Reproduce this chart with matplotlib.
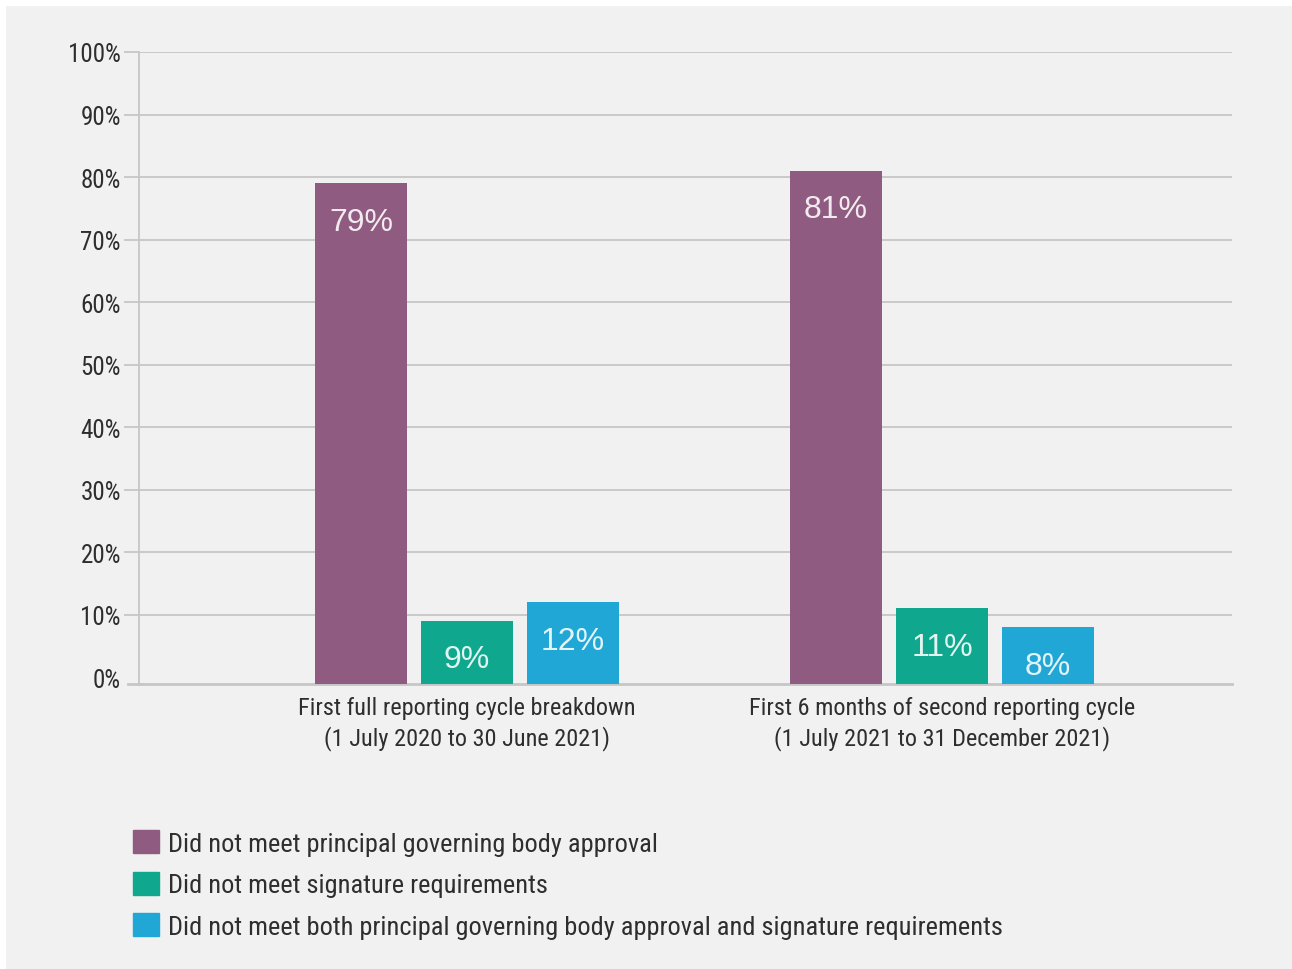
import matplotlib

matplotlib.use('Agg')
import matplotlib.pyplot as plt
import matplotlib.patches as mpatches
import numpy as np

# data
categories = ['First full reporting cycle breakdown\n(1 July 2020 to 30 June 2021)',
              'First 6 months of second reporting cycle\n(1 July 2021 to 31 December 2021)']
series_names = ['Did not meet principal governing body approval',
                'Did not meet signature requirements',
                'Did not meet both principal governing body approval and signature requirements']
approval = [79, 81]
signature = [9, 11]
both = [12, 8]
ytick_vals = [0, 10, 20, 30, 40, 50, 60, 70, 80, 90, 100]

colors = ['#8f5b80', '#0fa88e', '#21a7d6']
TEXT = '#2e2e2e'
GRID = '#c6c6c6'
BG = '#f0f1f0'
NARROW = ['Roboto Condensed', 'Liberation Sans Narrow', 'Roboto', 'DejaVu Sans']

fig = plt.figure(figsize=(12.92, 9.70), dpi=100)
fig.patch.set_facecolor('white')
# grey panel behind everything
fig.patches.append(mpatches.Rectangle((6 / 1292, 0), 1 - 6 / 1292, 1 - 7 / 970,
                                      transform=fig.transFigure, facecolor=BG,
                                      edgecolor='none', zorder=-10))

ax = fig.add_axes([139 / 1292, 1 - 685 / 970, (1232 - 139) / 1292, (685 - 53) / 970])
ax.set_facecolor(BG)

ybase = -1.1
x = np.arange(len(categories))
width = 0.192
step = 0.223
data_set = [approval, signature, both]
for i, vals in enumerate(data_set):
    h = np.array(vals) - ybase
    bars = ax.bar(x + (i - 1) * step, h, width, bottom=ybase, color=colors[i],
                  label=series_names[i], zorder=3)
    for b, v in zip(bars, vals):
        ax.annotate('%d%%' % v, (b.get_x() + b.get_width() / 2, b.get_y() + b.get_height()),
                    xytext=(0, -17), textcoords='offset points', ha='center', va='top',
                    fontsize=23, family=['Liberation Sans', 'DejaVu Sans'],
                    color='white', alpha=0.88, zorder=4)

ax.set_xlim(-0.6905, 1.6105)
ax.set_ylim(ybase, 100)
ax.set_yticks(ytick_vals)
ax.set_yticklabels(['%d%%' % v for v in ytick_vals], fontsize=18, family=NARROW, color=TEXT)
for v in ytick_vals[1:]:
    ax.axhline(v, color=GRID, linewidth=1.3, zorder=1)
ax.tick_params(axis='y', length=11, width=1.3, color=GRID, pad=2)
ax.yaxis.get_major_ticks()[0].tick1line.set_visible(False)

ax.set_xticks(x)
ax.set_xticklabels(categories, fontsize=17.5, family=NARROW, color=TEXT, linespacing=1.3)
ax.tick_params(axis='x', length=0, pad=9)

for s in ['top', 'right']:
    ax.spines[s].set_visible(False)
ax.spines['left'].set_color(GRID)
ax.spines['left'].set_linewidth(1.3)
ax.spines['bottom'].set_color(GRID)
ax.spines['bottom'].set_linewidth(2)
# base line runs out under the tick labels like the other ticks
ax.plot([-11 / 1093, 0], [ybase, ybase], transform=ax.get_yaxis_transform(),
        color=GRID, linewidth=2, clip_on=False)

handles = [mpatches.Patch(color=c) for c in colors]
leg = fig.legend(handles, series_names, loc='upper left',
                 bbox_to_anchor=(133 / 1292, 1 - 831 / 970), frameon=False,
                 prop={'family': NARROW, 'size': 19}, labelcolor=TEXT,
                 handlelength=0.98, handleheight=0.98, handletextpad=0.35,
                 labelspacing=0.6, borderpad=0, borderaxespad=0)

fig.savefig('out.png', dpi=100, facecolor=fig.get_facecolor())
